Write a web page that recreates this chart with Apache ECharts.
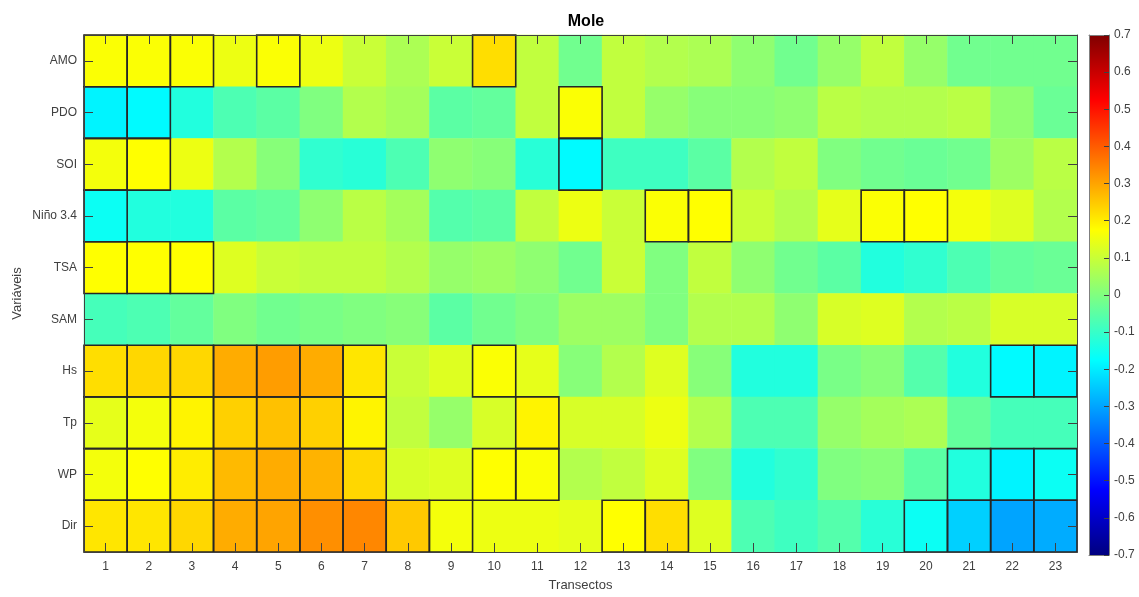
<!DOCTYPE html>
<html>
<head>
<meta charset="utf-8">
<script src="https://cdn.jsdelivr.net/npm/echarts@6/dist/echarts.min.js"></script>
<style>
  html, body { margin: 0; padding: 0; background: #ffffff; }
  #chart { width: 1139px; height: 597px; }
</style>
</head>
<body>
<div id="chart"></div>
<script>
// Transect numbers along the coast
const transects = ['1','2','3','4','5','6','7','8','9','10','11','12','13','14','15','16','17','18','19','20','21','22','23'];
// Climate / wave variables, top to bottom
const variables = ['AMO','PDO','SOI','Niño 3.4','TSA','SAM','Hs','Tp','WP','Dir'];

// Correlation per transect for each variable
const amo  = [0.17, 0.17, 0.17, 0.15, 0.17, 0.15, 0.10, 0.06, 0.10, 0.22, 0.09, -0.02, 0.09, 0.07, 0.06, 0.02, -0.02, 0.03, 0.09, 0.03, -0.02, -0.02, -0.02];
const pdo  = [-0.19, -0.18, -0.13, -0.07, -0.05, 0.00, 0.07, 0.05, -0.05, -0.04, 0.09, 0.17, 0.09, 0.03, 0.01, 0.01, 0.02, 0.08, 0.07, 0.07, 0.08, 0.02, -0.03];
const soi  = [0.16, 0.175, 0.15, 0.07, 0.01, -0.11, -0.12, -0.07, 0.02, 0.01, -0.12, -0.18, -0.09, -0.09, -0.05, 0.07, 0.09, 0.00, -0.02, -0.03, -0.02, 0.04, 0.08];
const nino = [-0.16, -0.13, -0.13, -0.05, -0.04, 0.02, 0.08, 0.05, -0.06, -0.05, 0.09, 0.15, 0.10, 0.17, 0.175, 0.10, 0.07, 0.14, 0.17, 0.175, 0.16, 0.13, 0.07];
const tsa  = [0.175, 0.175, 0.175, 0.13, 0.10, 0.09, 0.09, 0.07, 0.03, 0.04, 0.02, -0.02, 0.10, 0.00, 0.09, 0.02, -0.02, -0.05, -0.13, -0.11, -0.07, -0.04, -0.03];
const sam  = [-0.08, -0.07, -0.04, 0.00, -0.02, -0.01, 0.00, 0.01, -0.05, -0.02, 0.00, 0.04, 0.04, 0.00, 0.07, 0.07, 0.02, 0.12, 0.13, 0.07, 0.08, 0.12, 0.12];
const hs   = [0.22, 0.23, 0.23, 0.29, 0.31, 0.29, 0.21, 0.10, 0.13, 0.17, 0.14, 0.01, 0.07, 0.13, 0.01, -0.13, -0.13, -0.01, 0.01, -0.06, -0.13, -0.18, -0.19];
const tp   = [0.14, 0.16, 0.19, 0.24, 0.26, 0.24, 0.19, 0.09, 0.03, 0.12, 0.19, 0.12, 0.12, 0.15, 0.07, -0.07, -0.07, 0.03, 0.05, 0.06, -0.04, -0.08, -0.08];
const wp   = [0.16, 0.175, 0.20, 0.27, 0.29, 0.28, 0.23, 0.12, 0.13, 0.175, 0.17, 0.07, 0.09, 0.13, 0.00, -0.13, -0.11, 0.00, 0.01, -0.05, -0.13, -0.19, -0.16];
const dir  = [0.21, 0.21, 0.23, 0.29, 0.30, 0.33, 0.34, 0.25, 0.16, 0.15, 0.15, 0.14, 0.175, 0.22, 0.13, -0.07, -0.09, -0.06, -0.12, -0.16, -0.24, -0.30, -0.29];

// Transects where the correlation is significant (outlined cells)
const sigAmo  = [1, 2, 3, 5, 10];
const sigPdo  = [1, 2, 12];
const sigSoi  = [1, 2, 12];
const sigNino = [1, 14, 15, 19, 20];
const sigTsa  = [1, 2, 3];
const sigSam  = [];
const sigHs   = [1, 2, 3, 4, 5, 6, 7, 10, 22, 23];
const sigTp   = [1, 2, 3, 4, 5, 6, 7, 11];
const sigWp   = [1, 2, 3, 4, 5, 6, 7, 10, 11, 21, 22, 23];
const sigDir  = [1, 2, 3, 4, 5, 6, 7, 8, 9, 13, 14, 20, 21, 22, 23];

// Colour bar range and tick step
const cbarMin = -0.7;
const cbarMax = 0.7;
const cbarStep = 0.1;

const rows = [amo, pdo, soi, nino, tsa, sam, hs, tp, wp, dir];
const sigRows = [sigAmo, sigPdo, sigSoi, sigNino, sigTsa, sigSam, sigHs, sigTp, sigWp, sigDir];

const cells = [];
rows.forEach((vals, r) => vals.forEach((v, c) => cells.push([c, r, v])));
const outlined = [];
sigRows.forEach((list, r) => list.forEach(t => outlined.push([t - 1, r])));

// MATLAB-style jet colormap, low to high
const jet = ['#000080', '#0000FF', '#0080FF', '#00FFFF', '#80FF80', '#FFFF00', '#FF8000', '#FF0000', '#800000'];

const axisGray = '#404040';
const barEdge = '#7f7f7f';
const font = '"Liberation Sans", Arial, Helvetica, sans-serif';

const chart = echarts.init(document.getElementById('chart'), null, { renderer: 'canvas' });

const tickStyle = { show: true, inside: true, length: 9, alignWithLabel: true, lineStyle: { color: axisGray, width: 1 } };
const frameLine = { show: true, onZero: false, lineStyle: { color: axisGray, width: 1 } };
const barLine = { show: true, onZero: false, lineStyle: { color: barEdge, width: 1 } };

// Gradient for the colour bar, top (max) to bottom (min)
const barGradientStops = jet.slice().reverse().map((c, i, arr) => ({ offset: i / (arr.length - 1), color: c }));

chart.setOption({
  backgroundColor: '#ffffff',
  animation: false,
  title: {
    text: 'Mole',
    left: 581, top: 9,
    textAlign: 'center',
    textStyle: { fontFamily: font, fontSize: 16, fontWeight: 'bold', color: '#000000' }
  },
  grid: [
    { left: 84, top: 35, width: 993, height: 520, containLabel: false },
    { left: 1089, top: 35, width: 20, height: 520, containLabel: false }
  ],
  xAxis: [
    {
      type: 'category', data: transects, gridIndex: 0, position: 'bottom', z: 10,
      name: 'Transectos', nameLocation: 'middle', nameGap: 27,
      nameTextStyle: { fontFamily: font, fontSize: 13, color: axisGray },
      axisLine: frameLine,
      axisTick: tickStyle,
      axisLabel: { fontFamily: font, fontSize: 12, color: axisGray, margin: 9 },
      splitLine: { show: false }
    },
    {
      type: 'category', data: transects, gridIndex: 0, position: 'top', z: 10,
      axisLine: frameLine,
      axisTick: tickStyle,
      axisLabel: { show: false },
      splitLine: { show: false }
    },
    {
      type: 'value', gridIndex: 1, min: 0, max: 1, position: 'bottom', z: 10,
      axisLine: barLine,
      axisTick: { show: false }, axisLabel: { show: false }, splitLine: { show: false }
    },
    {
      type: 'value', gridIndex: 1, min: 0, max: 1, position: 'top', z: 10,
      axisLine: barLine,
      axisTick: { show: false }, axisLabel: { show: false }, splitLine: { show: false }
    }
  ],
  yAxis: [
    {
      type: 'category', data: variables, gridIndex: 0, inverse: true, position: 'left', z: 10,
      name: 'Variáveis', nameLocation: 'middle', nameGap: 60, nameRotate: 90,
      nameMoveOverlap: false,
      nameTextStyle: { fontFamily: font, fontSize: 13, color: axisGray },
      axisLine: frameLine,
      axisTick: tickStyle,
      axisLabel: { fontFamily: font, fontSize: 12, color: axisGray, margin: 7 },
      splitLine: { show: false }
    },
    {
      type: 'category', data: variables, gridIndex: 0, inverse: true, position: 'right', z: 10,
      axisLine: frameLine,
      axisTick: tickStyle,
      axisLabel: { show: false },
      splitLine: { show: false }
    },
    {
      type: 'value', gridIndex: 1, position: 'right', z: 10,
      min: cbarMin, max: cbarMax, interval: cbarStep,
      axisLine: barLine,
      axisTick: { show: true, inside: true, length: 5, lineStyle: { color: axisGray } },
      axisLabel: {
        fontFamily: font, fontSize: 12, color: axisGray, margin: 5,
        formatter: v => String(+v.toFixed(1))
      },
      splitLine: { show: false }
    },
    {
      type: 'value', gridIndex: 1, position: 'left', z: 10,
      min: cbarMin, max: cbarMax,
      axisLine: barLine,
      axisTick: { show: false }, axisLabel: { show: false }, splitLine: { show: false }
    }
  ],
  visualMap: {
    type: 'continuous',
    show: false,
    seriesIndex: 0,
    min: cbarMin, max: cbarMax,
    inRange: { color: jet }
  },
  series: [
    {
      type: 'heatmap',
      xAxisIndex: 0, yAxisIndex: 0,
      data: cells,
      itemStyle: { borderWidth: 0 },
      emphasis: { disabled: true },
      z: 1
    },
    {
      type: 'custom',
      xAxisIndex: 0, yAxisIndex: 0,
      data: outlined,
      z: 3,
      silent: true,
      renderItem: function (params, api) {
        const p = api.coord([api.value(0), api.value(1)]);
        const s = api.size([1, 1]);
        return {
          type: 'rect',
          shape: { x: p[0] - s[0] / 2, y: p[1] - s[1] / 2, width: s[0], height: s[1] },
          style: { fill: null, stroke: '#262626', lineWidth: 1.6 }
        };
      }
    },
    {
      // colour bar
      type: 'custom',
      xAxisIndex: 2, yAxisIndex: 2,
      data: [[0, cbarMin, 1, cbarMax]],
      z: 1,
      silent: true,
      renderItem: function (params, api) {
        const tl = api.coord([api.value(0), api.value(3)]);
        const br = api.coord([api.value(2), api.value(1)]);
        return {
          type: 'rect',
          shape: { x: tl[0], y: tl[1], width: br[0] - tl[0], height: br[1] - tl[1] },
          style: { fill: new echarts.graphic.LinearGradient(0, 0, 0, 1, barGradientStops) }
        };
      }
    }
  ]
});
</script>
</body>
</html>
